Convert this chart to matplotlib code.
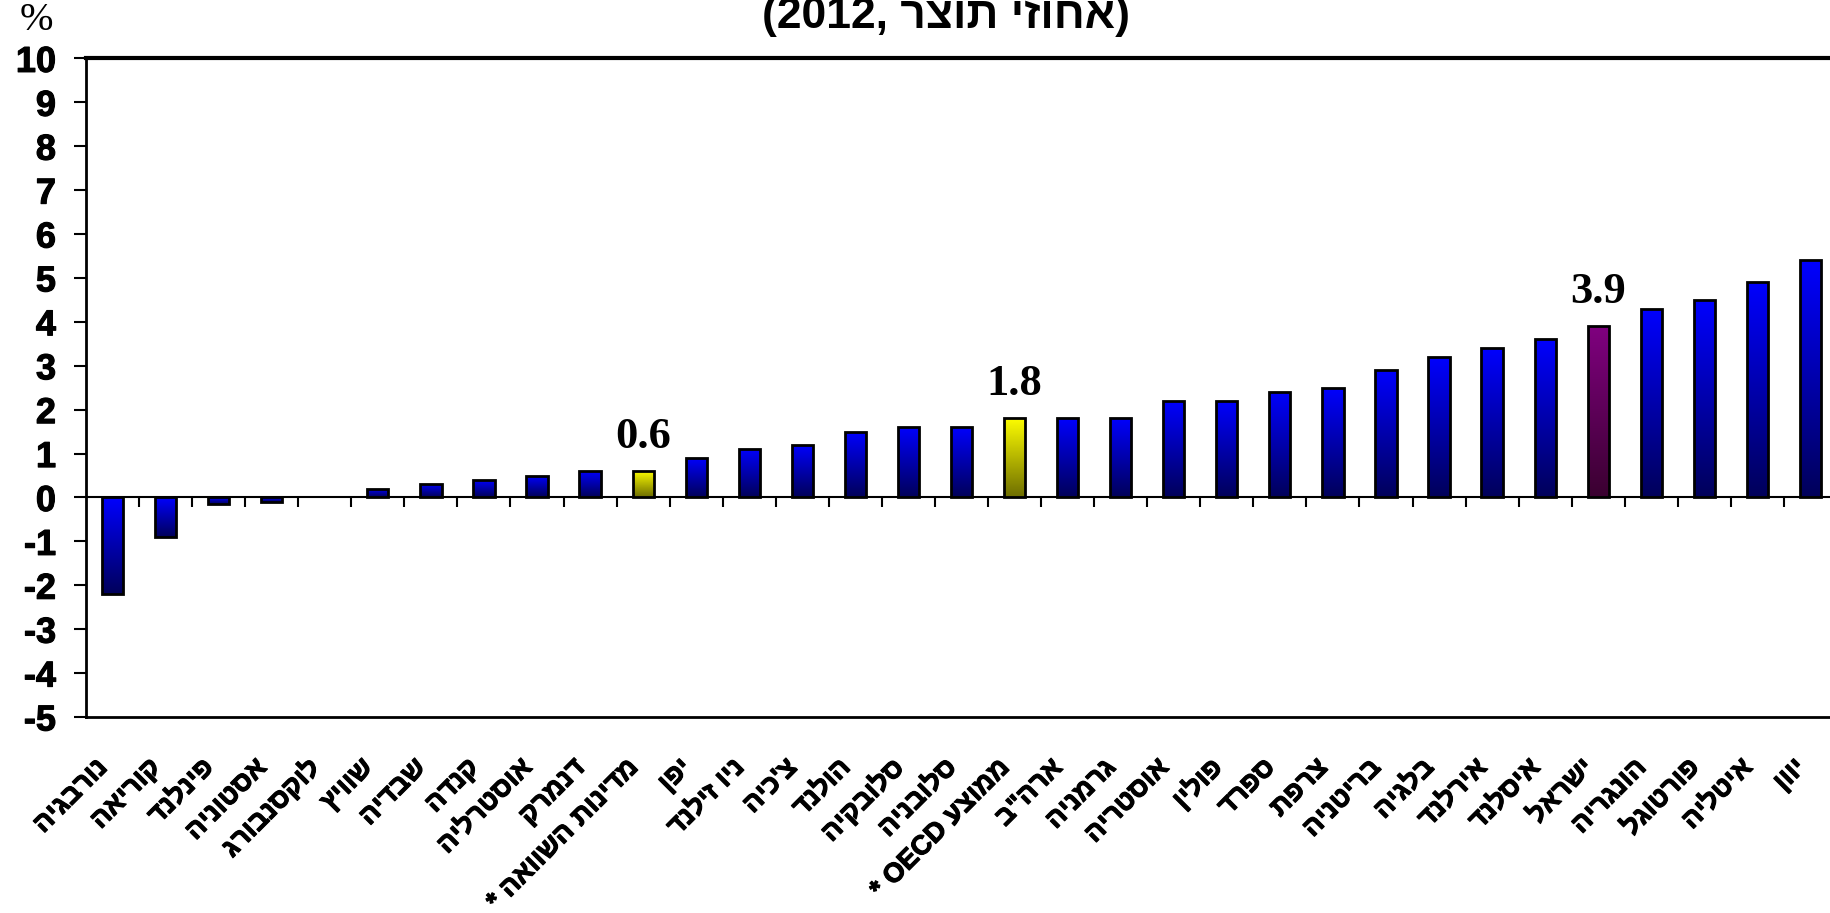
import numpy as np
import matplotlib
matplotlib.use("Agg")
import matplotlib.pyplot as plt
import matplotlib.patheffects as pe
from matplotlib.colors import LinearSegmentedColormap
from matplotlib.transforms import ScaledTranslation

# ---- data -------------------------------------------------------------
countries = ["נורבגיה", "קוריאה", "פינלנד", "אסטוניה", "לוקסנבורג", "שוויץ",
             "שבדיה", "קנדה", "אוסטרליה", "דנמרק", "מדינות השוואה *", "יפן",
             "ניו זילנד", "צ'כיה", "הולנד", "סלובקיה", "סלובניה", "ממוצע OECD *",
             'ארה"ב', "גרמניה", "אוסטריה", "פולין", "ספרד", "צרפת", "בריטניה",
             "בלגיה", "אירלנד", "איסלנד", "ישראל", "הונגריה", "פורטוגל",
             "איטליה", "יוון"]
values = [-2.2, -0.9, -0.15, -0.1, 0.0, 0.2, 0.3, 0.4, 0.5, 0.6, 0.6, 0.9,
          1.1, 1.2, 1.5, 1.6, 1.6, 1.8, 1.8, 1.8, 2.2, 2.2, 2.4, 2.5, 2.9,
          3.2, 3.4, 3.6, 3.9, 4.3, 4.5, 4.9, 5.4]
highlight_yellow = ["מדינות השוואה *", "ממוצע OECD *"]
highlight_purple = ["ישראל"]
labelled = ["מדינות השוואה *", "ממוצע OECD *", "ישראל"]
yticks = list(range(-5, 11))
title_text = "(2012, אחוזי תוצר)"
unit_text = "%"


def is_ltr(ch):
    return ch.isascii() and ch.isalnum()


def visual(s):
    """Reorder a right-to-left string for left-to-right glyph layout."""
    runs, cur, cur_ltr = [], "", None
    for ch in s:
        kind = is_ltr(ch)
        if cur_ltr is None or kind == cur_ltr:
            cur += ch
        else:
            runs.append((cur, cur_ltr))
            cur = ch
        cur_ltr = kind
    if cur:
        runs.append((cur, cur_ltr))
    return "".join(t if ltr else t[::-1] for t, ltr in reversed(runs))


def title_visual(s):
    inner = s[1:-1]
    num, heb = inner.split(", ")
    return "(" + num + ", " + heb[::-1] + ")"


heavy = [pe.withStroke(linewidth=0.8, foreground="black")]

# ---- figure -----------------------------------------------------------
W, H = 1831, 913
fig = plt.figure(figsize=(W / 100, H / 100), dpi=100)
ax = fig.add_axes([86 / W, 1 - 717 / H, (1837 - 86) / W, (717 - 58.4) / H])

x = np.arange(len(countries))
bars = ax.bar(x, values, width=0.4, facecolor="none", edgecolor="black",
              linewidth=2, zorder=4)

blue = LinearSegmentedColormap.from_list("b", ["#0000FF", "#00005A"])
yellow = LinearSegmentedColormap.from_list("y", ["#FFFF00", "#6E6E00"])
purple = LinearSegmentedColormap.from_list("p", ["#800080", "#3A0030"])
grad = np.linspace(0, 1, 256).reshape(-1, 1)

for name, rect in zip(countries, bars.patches):
    if rect.get_height() == 0:
        rect.set_visible(False)
        continue
    cmap = blue
    if name in highlight_yellow:
        cmap = yellow
    elif name in highlight_purple:
        cmap = purple
    x0 = rect.get_x()
    x1 = x0 + rect.get_width()
    y0 = min(rect.get_y(), rect.get_y() + rect.get_height())
    y1 = max(rect.get_y(), rect.get_y() + rect.get_height())
    im = ax.imshow(grad, cmap=cmap, extent=(x0, x1, y0, y1), aspect="auto",
                   origin="upper", zorder=3, interpolation="bilinear")
    im.set_clip_path(rect)

for name, val, xi in zip(countries, values, x):
    if name in labelled:
        ax.annotate(f"{val:.1f}", (xi, val), xytext=(0, 17),
                    textcoords="offset points", ha="center", va="baseline",
                    fontsize=32, fontweight="bold", family="Liberation Serif")

ax.set_xlim(-0.5, len(countries) - 0.5)
ax.set_ylim(-5, 10)

# y axis
ax.set_yticks(yticks)
ax.set_yticklabels([str(t) for t in yticks], fontsize=26, fontweight="bold",
                   family="Liberation Sans")
ax.tick_params(axis="y", direction="out", length=8.6, width=1.5, pad=13)
for lbl in ax.get_yticklabels():
    lbl.set_path_effects([pe.withStroke(linewidth=0.8, foreground="black")])

# category labels
ax.set_xticks(x)
ax.set_xticklabels([visual(c) for c in countries], rotation=45, ha="right",
                   va="top", rotation_mode="anchor", fontsize=19.5,
                   fontweight="bold", family="Liberation Sans")
ax.tick_params(axis="x", length=0, pad=27)
shift = ScaledTranslation(-18 / 100, 0, fig.dpi_scale_trans)
for lbl in ax.get_xticklabels():
    lbl.set_transform(lbl.get_transform() + shift)
    lbl.set_path_effects(heavy)

# zero line with separator ticks between categories
sec = ax.secondary_xaxis(0, transform=ax.transData)
sec.set_alignment("bottom")
sec.set_xticks(np.arange(0.5, len(countries) - 1, 1.0))
sec.tick_params(axis="x", direction="out", length=7.5, width=1.5,
                labelbottom=False, labeltop=False)
for sp in sec.spines.values():
    sp.set_linewidth(1.5)

for side, lw in (("left", 2), ("top", 3), ("bottom", 2), ("right", 2)):
    ax.spines[side].set_linewidth(lw)

fig.text(36 / W, 1 - 21 / H, unit_text, ha="center", va="center", fontsize=29,
         family="Liberation Serif")
fig.text(946 / W, 1 - 28 / H, title_visual(title_text), ha="center",
         va="baseline", fontsize=32, fontweight="bold",
         family="Liberation Sans")

fig.savefig("out.png", dpi=100)
